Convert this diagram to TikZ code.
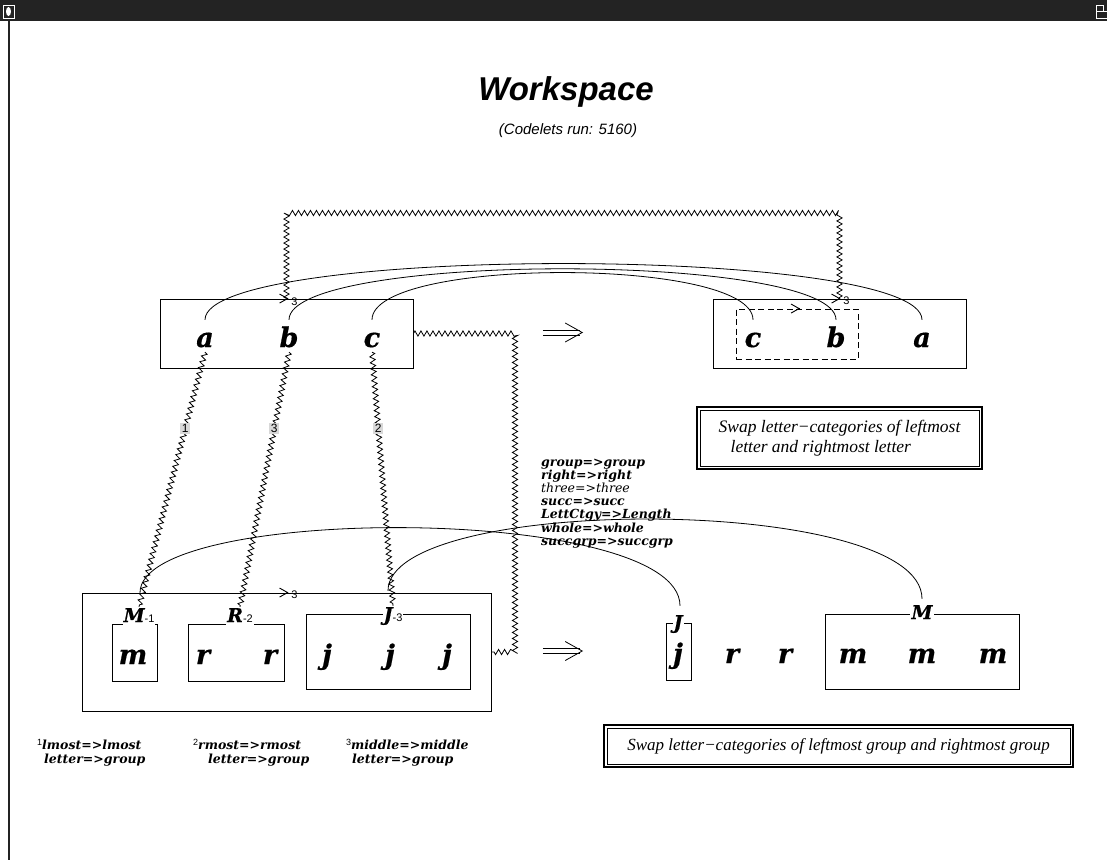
\documentclass[tikz,border=0pt]{standalone}
\usepackage{fontspec}
\usetikzlibrary{calc,decorations.pathmorphing,arrows.meta}
\newfontfamily\helv{Liberation Sans}
\newfontfamily\tms{Liberation Serif}
\newfontfamily\dvs{DejaVu Serif}
\newfontfamily\heavy{DejaVu Serif}[FakeBold=0.6]
\definecolor{barc}{HTML}{232323}
\definecolor{tagc}{HTML}{D8D8D8}
% length suffix of a group label, set small and upright
\newcommand\lensub[1]{{\helv\mdseries\upshape\fontsize{11}{11}\selectfont -#1}}
% footnote mark
\newcommand\fnmark[1]{\raisebox{4pt}{\helv\mdseries\upshape\fontsize{9}{9}\selectfont #1}}
\tikzset{
  gbox/.style={draw, line width=0.9pt, inner sep=0pt},
  dbox/.style={gbox, dash pattern=on 6pt off 3.5pt},
  letr/.style={font=\heavy\bfseries\itshape\fontsize{27}{27}\selectfont, inner sep=0pt,
     text height=27pt, text depth=5pt, anchor=base},
  glab/.style={font=\heavy\bfseries\itshape\fontsize{19}{19}\selectfont, fill=white,
     inner sep=1pt, text height=14pt, text depth=4pt, anchor=base},
  zz/.style={decorate, decoration={zigzag, segment length=6pt, amplitude=2.6pt}, line width=0.8pt},
  bond/.style={line width=0.8pt},
  thinline/.style={line width=0.8pt},
  chev/.style={-{Straight Barb[length=8pt,width=9pt,line width=0.9pt]}, line width=0.9pt},
  lenno/.style={font=\helv\fontsize{11}{11}\selectfont, inner sep=0pt},
  numtag/.style={font=\helv\fontsize{12}{12}\selectfont, fill=tagc, inner sep=1.5pt},
  mapl/.style={font=\dvs\bfseries\itshape\fontsize{12.5}{12.5}\selectfont, inner sep=0pt, anchor=base west},
  rulebox/.style={draw, line width=2pt, inner sep=0pt, align=left,
     font=\tms\itshape\fontsize{17.5}{20}\selectfont},
  implies/.style={inner sep=0pt, minimum width=39pt, minimum height=19pt},
}
\begin{document}
\begin{tikzpicture}[x=1pt,y=-1pt]
\useasboundingbox (0,0) rectangle (1107,860);
% window chrome
\fill[barc] (0,0) rectangle (1107,21);
\draw[white, line width=0.8pt] (3,5) rectangle (14,18);
\fill[white] (8.5,11.5) ellipse [x radius=2.5, y radius=4.5];
\draw[white, line width=0.8pt] (1096,5) rectangle (1103,11) (1096,11) rectangle (1107,18);
\draw[barc, line width=1.6pt] (9,21) -- (9,860);

% heading
\node[anchor=base, inner sep=0pt, font=\helv\bfseries\itshape\fontsize{33}{33}\selectfont] (title) at (566,100) {Workspace};
\node[anchor=base, inner sep=0pt, font=\helv\itshape\fontsize{15}{15}\selectfont] (runs) at (568,134) {(Codelets run: 5160)};

% string frames and groups
\node[gbox, minimum width=253pt, minimum height=69pt] (tl) at (286.5,333.5) {};
\node[gbox, minimum width=253pt, minimum height=69pt] (tr) at (839.5,333.5) {};
\node[dbox, minimum width=122pt, minimum height=50pt] (trd) at (797,334) {};
\node[gbox, minimum width=409pt, minimum height=118pt] (bl) at (286.5,652) {};
\node[gbox, minimum width=45pt, minimum height=57pt] (bM) at (134.5,652.5) {};
\node[gbox, minimum width=96pt, minimum height=57pt] (bR) at (236,652.5) {};
\node[gbox, minimum width=164pt, minimum height=75pt] (bJ) at (388,651.5) {};
\node[gbox, minimum width=25pt, minimum height=57pt] (rJ) at (678.5,651.5) {};
\node[gbox, minimum width=194pt, minimum height=75pt] (rM) at (922,651.5) {};

% group labels
\node[glab, text depth=11pt] (gM) at (139,622) {M\lensub{1}};
\node[glab] (gR) at (240,622) {R\lensub{2}};
\node[glab] (gJ) at (393,621) {J\lensub{3}};
\node[glab] (hJ) at (678,629) {J};
\node[glab] (hM) at (922,619) {M};

% letters
\node[letr] (ta) at (205,347) {a};
\node[letr] (tb) at (289,347) {b};
\node[letr] (tc) at (372,347) {c};
\node[letr] (uc) at (753,347) {c};
\node[letr] (ub) at (836,347) {b};
\node[letr] (ua) at (922,347) {a};
\node[letr] (m1) at (133,664) {m};
\node[letr] (r1) at (203,664) {r};
\node[letr] (r2) at (270,664) {r};
\node[letr] (j1) at (327,664) {j};
\node[letr] (j2) at (390,664) {j};
\node[letr] (j3) at (447,664) {j};
\node[letr] (k1) at (678,663) {j};
\node[letr] (s1) at (732,663) {r};
\node[letr] (s2) at (785,663) {r};
\node[letr] (n1) at (853,663) {m};
\node[letr] (n2) at (922,663) {m};
\node[letr] (n3) at (993,663) {m};

% rule arrows, drawn as double lines with an open head
\node[implies] (imp1) at (562.5,332.5) {};
\node[implies] (imp2) at (562.5,651) {};
\foreach \i in {imp1,imp2}{
  \draw[thinline] ([yshift=2.5pt]\i.west) -- ([shift={(-2pt,2.5pt)}]\i.east);
  \draw[thinline] ([yshift=-2.5pt]\i.west) -- ([shift={(-2pt,-2.5pt)}]\i.east);
  \draw[thinline] ([shift={(-17pt,9.5pt)}]\i.east) -- (\i.east) -- ([shift={(-17pt,-9.5pt)}]\i.east);
}

% bonds between the initial and modified strings
\draw[bond] (ta.north) .. controls +(0,-75) and +(0,-75) .. (ua.north);
\draw[bond] (tb.north) .. controls +(0,-68) and +(0,-68) .. (ub.north);
\draw[bond] (tc.north) .. controls +(0,-63) and +(0,-63) .. (uc.north);

% bonds between the target and answer strings
\draw[bond] ($(gM.north)+(1,-14)$) .. controls +(0,-89) and +(0,-102) .. ($(hJ.north)+(2,-8)$);
\draw[bond] ($(gJ.north)+(-5,-15)$) .. controls +(0,-97) and +(0,-105) .. ($(hM.north)+(0,-5)$);

% correspondences
\coordinate (ztop) at (0,213);
\coordinate (zx) at (515,0);
\draw[zz] (tl.north) -- (tl.north |- ztop) -- (tr.north |- ztop) -- (tr.north);
\draw[zz] (tl.east) -- (tl.east -| zx) -- (bl.east -| zx) -- (bl.east);
\draw[zz] (ta.south) -- (gM.north);
\draw[zz] (tb.south) -- (gR.north);
\draw[zz] (tc.south) -- (gJ.north);
\node[numtag] (c1) at ($(ta.south)!0.3!(gM.north)$) {1};
\node[numtag] (c2) at ($(tb.south)!0.3!(gR.north)$) {3};
\node[numtag] (c3) at ($(tc.south)!0.3!(gJ.north)$) {2};

% group directions
\draw[chev] ([xshift=1pt]tl.north) -- ([xshift=2pt]tl.north);
\node[lenno] (d1) at ([shift={(8pt,-3pt)}]tl.north) {3};
\draw[chev] ([xshift=0pt]tr.north) -- ([xshift=1pt]tr.north);
\node[lenno] (d2) at ([shift={(7pt,-2pt)}]tr.north) {3};
\draw[chev] ([xshift=2pt]trd.north) -- ([xshift=3pt]trd.north);
\draw[chev] ([xshift=1pt]bl.north) -- ([xshift=2pt]bl.north);
\node[lenno] (d3) at ([shift={(8pt,-2pt)}]bl.north) {3};

% concept mappings
\node[mapl] (p1) at (541,466) {group=>group};
\node[mapl] (p2) at (541,479) {right=>right};
\node[mapl, font=\dvs\mdseries\itshape\fontsize{12.5}{12.5}\selectfont] (p3) at (541,492) {three=>three};
\node[mapl] (p4) at (541,505) {succ=>succ};
\node[mapl] (p5) at (541,518) {LettCtgy=>Length};
\node[mapl] (p6) at (541,532) {whole=>whole};
\node[mapl] (p7) at (541,545) {succgrp=>succgrp};

% footnotes of the correspondences
\node[mapl] (f1) at (37,749) {\fnmark{1}lmost=>lmost};
\node[mapl] (f1b) at (44,763) {letter=>group};
\node[mapl] (f2) at (193,749) {\fnmark{2}rmost=>rmost};
\node[mapl] (f2b) at (208,763) {letter=>group};
\node[mapl] (f3) at (346,749) {\fnmark{3}middle=>middle};
\node[mapl] (f3b) at (352,763) {letter=>group};

% rules
\node[rulebox, minimum width=285pt, minimum height=62pt] (rule1) at (839.5,438)
  {Swap letter−categories of leftmost\\\hspace*{12pt}letter and rightmost letter};
\draw[line width=0.9pt] ([shift={(4pt,-4pt)}]rule1.north west) rectangle ([shift={(-4pt,4pt)}]rule1.south east);
\node[rulebox, align=center, font=\tms\itshape\fontsize{17}{20}\selectfont, minimum width=469pt, minimum height=42pt] (rule2) at (838.5,746)
  {Swap letter−categories of leftmost group and rightmost group};
\draw[line width=0.9pt] ([shift={(4pt,-4pt)}]rule2.north west) rectangle ([shift={(-4pt,4pt)}]rule2.south east);
\end{tikzpicture}
\end{document}
